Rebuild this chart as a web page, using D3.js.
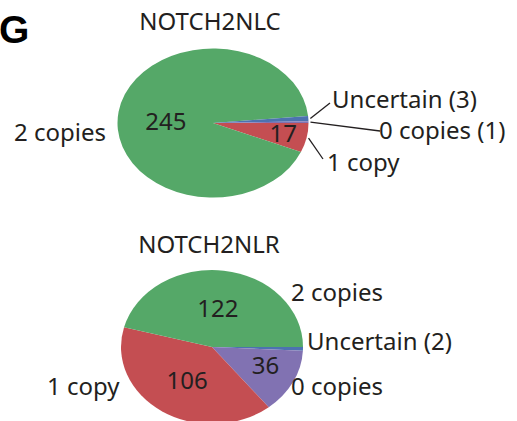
<!DOCTYPE html>
<html>
<head>
<meta charset="utf-8">
<script src="https://cdnjs.cloudflare.com/ajax/libs/d3/7.8.5/d3.min.js"></script>
<style>
  body { margin: 0; background: #fff; }
  text { font-family: "Noto Sans", "Open Sans", sans-serif; fill: #231f20; }
</style>
</head>
<body>
<script>
// data
var catsC = ['1 copy', '2 copies', 'Uncertain', '0 copies'];
var valsC = [17, 245, 3, 1];
var catsR = ['Uncertain', '0 copies', '1 copy', '2 copies'];
var valsR = [2, 36, 106, 122];

var colors = {'2 copies': '#55a868', '1 copy': '#c44e52', 'Uncertain': '#4c72b0', '0 copies': '#8172b2'};

var svg = d3.select('body').append('svg').attr('width', 517).attr('height', 421);

svg.append('text').attr('x', -1).attr('y', 43)
    .style('font-family', '"Liberation Sans", Arial, sans-serif')
    .style('font-weight', 'bold').style('font-size', '39px').style('fill', '#000')
    .text('G');

// layout for each pie: inner = [radius factor, dy]
var charts = [
  { title: 'NOTCH2NLC', cats: catsC, vals: valsC, cx: 213, cy: 123, rx: 95.5, ry: 74.5, ty: 30,
    inner: {'2 copies': [0.5, 13], '1 copy': [0.75, 8]},
    outer: {
      '2 copies': {text: '2 copies', x: 14, y: 141},
      'Uncertain': {text: 'Uncertain (3)', x: 332, y: 108, line: [330, 103]},
      '0 copies': {text: '0 copies (1)', x: 379, y: 139, line: [380, 131]},
      '1 copy': {text: '1 copy', x: 327, y: 171, line: [323, 159]}
    } },
  { title: 'NOTCH2NLR', cats: catsR, vals: valsR, cx: 212, cy: 347, rx: 91, ry: 77, ty: 253,
    inner: {'2 copies': [0.5, 8], '0 copies': [0.66, 4], '1 copy': [0.5, 10]},
    outer: {
      '2 copies': {text: '2 copies', x: 291, y: 301},
      'Uncertain': {text: 'Uncertain (2)', x: 307, y: 350},
      '0 copies': {text: '0 copies', x: 291, y: 395},
      '1 copy': {text: '1 copy', x: 47, y: 395}
    } }
];

charts.forEach(function(c) {
  var k = c.ry / c.rx;
  var data = c.cats.map(function(d, i) { return {cat: d, v: c.vals[i]}; });
  var pie = d3.pie().value(function(d) { return d.v; }).sort(null)
      .startAngle(Math.PI / 2).endAngle(Math.PI / 2 + 2 * Math.PI);
  var arcs = pie(data);
  var arc = d3.arc().innerRadius(0).outerRadius(c.rx);

  svg.append('text').attr('x', c.cx - 3).attr('y', c.ty)
      .attr('text-anchor', 'middle').style('font-size', '24px').text(c.title);

  var g = svg.append('g').attr('transform', 'translate(' + c.cx + ',' + c.cy + ') scale(1,' + k + ')');
  g.selectAll('path').data(arcs).enter().append('path')
      .attr('d', arc)
      .attr('fill', function(d) { return colors[d.data.cat]; });

  // numbers inside slices
  arcs.forEach(function(d) {
    var f = c.inner[d.data.cat];
    if (!f) return;
    var a = (d.startAngle + d.endAngle) / 2;
    var x = c.cx + Math.sin(a) * c.rx * f[0];
    var y = c.cy - Math.cos(a) * c.rx * f[0] * k;
    svg.append('text').attr('x', x).attr('y', y + f[1])
        .attr('text-anchor', 'middle').style('font-size', '24px').text(d.data.v);
  });

  // outer labels and leader lines
  arcs.forEach(function(d) {
    var o = c.outer[d.data.cat];
    if (o.line) {
      var a = (d.startAngle + d.endAngle) / 2;
      var x0 = c.cx + Math.sin(a) * (c.rx + 2);
      var y0 = c.cy - Math.cos(a) * (c.rx + 2) * k;
      svg.append('line').attr('x1', x0).attr('y1', y0)
          .attr('x2', o.line[0]).attr('y2', o.line[1])
          .attr('stroke', '#231f20').attr('stroke-width', 1.3);
    }
    svg.append('text').attr('x', o.x).attr('y', o.y).style('font-size', '24px').text(o.text);
  });
});
</script>
</body>
</html>
